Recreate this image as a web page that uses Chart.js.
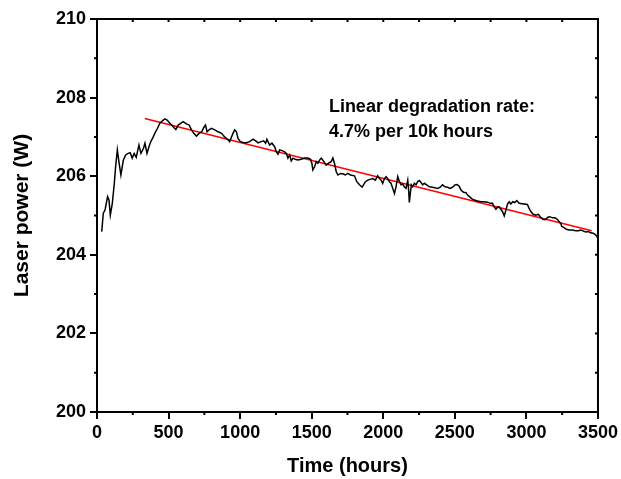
<!DOCTYPE html>
<html><head><meta charset="utf-8">
<script src="https://cdn.jsdelivr.net/npm/chart.js@4.4.1/dist/chart.umd.min.js"></script>
<style>html,body{margin:0;padding:0;background:#fff;overflow:hidden}</style>
</head><body>
<canvas id="c" width="621" height="479"></canvas>
<script>
// ---- data ----
const hours = [
  33,44,56,74,84,93,107,121,130,142,153,167,184,200,218,232,246,260,274,293,307,325,335,349,363,376,393,409,423,439,458,474,490,509,532,551,567,
  602,625,644,660,676,695,713,732,746,758,769,783,800,823,846,870,892,916,927,939,950,962,974,985,1002,1020,1044,1067,1090,1109,1125,1148,1164,1178,1187,
  1206,1222,1241,1253,1264,1276,1292,1311,1323,1334,1346,1357,1369,1385,1403,1427,1450,1473,1492,1501,1508,1520,1532,1543,1555,1567,1585,1601,1618,1636,1648,1659,1671,1683,1701,1717,1734,1752,1771,
  1799,1815,1834,1852,1862,1875,1892,1908,1927,1945,1961,1973,1985,1996,2008,2020,2031,2043,2054,2066,2078,2089,2101,2113,2124,2136,2147,2159,2171,2178,2182,2189,2196,2205,2217,2229,2240,2252,2264,2275,2287,2303,2322,2345,
  2380,2398,2414,2431,2449,2468,2484,2501,2515,2529,2543,2561,2578,2589,2608,2624,2641,2659,2682,2705,2728,2747,2763,2775,2787,2798,2810,2822,2833,2845,2857,2868,2880,2891,2905,2919,2933,
  2949,3007,3019,3031,3047,3066,3084,3100,3117,3135,3147,3163,3182,3200,3217,3229,3240,3247,3263,3279,3298,3321,3344,3363,3379,3395,3414,3433,3449,3466,3479,3491,3498
];
const power = [
  204.59,205.06,205.14,205.48,205.39,205.01,205.31,205.82,206.24,206.67,206.37,206.03,206.41,206.54,206.58,206.60,206.46,206.58,206.48,206.79,206.58,206.71,206.84,206.58,206.75,206.88,207.00,207.13,207.22,207.35,207.41,207.46,207.43,207.35,207.26,207.19,207.30,
  207.39,207.33,207.30,207.18,207.09,207.02,207.09,207.13,207.24,207.30,207.13,207.18,207.22,207.18,207.13,207.09,207.00,206.92,206.88,206.99,207.09,207.18,207.13,206.96,206.88,206.86,206.85,206.88,206.94,206.90,206.85,206.88,206.90,206.84,206.94,
  206.79,206.84,206.75,206.62,206.56,206.67,206.65,206.62,206.58,206.46,206.54,206.39,206.46,206.43,206.41,206.43,206.46,206.46,206.43,206.33,206.16,206.24,206.37,206.33,206.41,206.46,206.37,206.28,206.33,206.37,206.46,206.33,206.12,206.03,206.07,206.06,206.03,206.07,206.03,
  206.01,205.86,205.78,205.72,205.78,205.86,205.90,205.92,205.94,205.90,206.01,205.94,205.90,205.82,205.94,205.99,205.94,205.86,205.82,205.69,205.56,205.73,205.99,205.86,205.78,205.80,205.73,205.69,205.90,205.61,205.33,205.56,205.78,205.73,205.82,205.78,205.86,205.89,205.84,205.78,205.82,205.78,205.73,205.72,
  205.69,205.72,205.78,205.73,205.72,205.69,205.72,205.78,205.79,205.75,205.65,205.59,205.58,205.52,205.46,205.41,205.39,205.37,205.35,205.35,205.34,205.31,205.31,205.22,205.16,205.21,205.22,205.16,205.10,204.99,205.14,205.29,205.35,205.29,205.35,205.33,205.38,
  205.31,205.28,205.18,205.10,205.03,205.01,205.03,204.95,204.90,204.90,204.95,204.97,204.94,204.94,204.90,204.84,204.80,204.72,204.69,204.65,204.63,204.63,204.61,204.61,204.63,204.61,204.58,204.59,204.56,204.55,204.52,204.48,204.42
];
const fitHours = [334, 3456];
const fitPower = [207.47, 204.61];
const xTicks = [0, 500, 1000, 1500, 2000, 2500, 3000, 3500];
const xMinorTicks = [250, 750, 1250, 1750, 2250, 2750, 3250];
const yTicks = [200, 202, 204, 206, 208, 210];
const yMinorTicks = [201, 203, 205, 207, 209];
const annotationLines = ['Linear degradation rate:', '4.7% per 10k hours'];
const annotationAnchor = [1620, 207.76];
const xTitle = 'Time (hours)';
const yTitle = 'Laser power (W)';

const FONT = '"Liberation Sans", Arial, Helvetica, sans-serif';

const framePlugin = {
  id: 'frame',
  afterDatasetsDraw(chart) {
    const {ctx, chartArea: a, scales: {x, y}} = chart;
    ctx.save();
    ctx.strokeStyle = '#000';
    ctx.lineWidth = 2;
    ctx.strokeRect(a.left, a.top, a.right - a.left, a.bottom - a.top);
    ctx.beginPath();
    xMinorTicks.forEach(v => { const px = x.getPixelForValue(v); ctx.moveTo(px, a.bottom); ctx.lineTo(px, a.bottom + 3); });
    yMinorTicks.forEach(v => { const py = y.getPixelForValue(v); ctx.moveTo(a.left, py); ctx.lineTo(a.left - 3, py); });
    xTicks.concat(xMinorTicks).forEach(v => { const px = x.getPixelForValue(v); ctx.moveTo(px, a.top); ctx.lineTo(px, a.top + 3); });
    yTicks.concat(yMinorTicks).forEach(v => { const py = y.getPixelForValue(v); ctx.moveTo(a.right, py); ctx.lineTo(a.right - 3, py); });
    ctx.stroke();
    ctx.fillStyle = '#000';
    ctx.font = 'bold 18px ' + FONT;
    ctx.textBaseline = 'middle';
    ctx.textAlign = 'left';
    const ax = x.getPixelForValue(annotationAnchor[0]);
    const ay = y.getPixelForValue(annotationAnchor[1]);
    annotationLines.forEach((t, i) => ctx.fillText(t, ax, ay + i * 24.5));
    ctx.restore();
  }
};

new Chart(document.getElementById('c'), {
  type: 'line',
  data: {
    datasets: [
      { data: hours.map((h, i) => ({x: h, y: power[i]})), borderColor: '#000', borderWidth: 1.5, pointRadius: 0, tension: 0, fill: false },
      { data: fitHours.map((h, i) => ({x: h, y: fitPower[i]})), borderColor: '#ff0000', borderWidth: 1.5, pointRadius: 0, tension: 0, fill: false }
    ]
  },
  options: {
    responsive: false, animation: false, devicePixelRatio: 1,
    layout: { padding: { top: 19, right: 21.5, left: 0, bottom: 0 } },
    plugins: { legend: { display: false }, tooltip: { enabled: false } },
    scales: {
      x: {
        type: 'linear', min: 0, max: 3500,
        afterBuildTicks: s => { s.ticks = xTicks.map(v => ({value: v})); },
        ticks: { color: '#000', font: { family: FONT, size: 18, weight: 'bold' }, padding: 3, maxRotation: 0, autoSkip: false, callback: v => String(v) },
        grid: { display: true, drawOnChartArea: false, drawTicks: true, tickLength: 7, color: '#000', lineWidth: 2 },
        border: { display: false },
        title: { display: true, text: xTitle, color: '#000', font: { family: FONT, size: 20, weight: 'bold' }, padding: { top: 0, bottom: 1 } },
        afterFit: s => { s.height = 67; }
      },
      y: {
        type: 'linear', min: 200, max: 210,
        afterBuildTicks: s => { s.ticks = yTicks.map(v => ({value: v})); },
        ticks: { color: '#000', font: { family: FONT, size: 18, weight: 'bold' }, padding: 4, autoSkip: false, callback: v => String(v) },
        grid: { display: true, drawOnChartArea: false, drawTicks: true, tickLength: 7, color: '#000', lineWidth: 2 },
        border: { display: false },
        title: { display: true, text: yTitle, color: '#000', font: { family: FONT, size: 21, weight: 'bold' }, padding: { top: 10, bottom: 0 } },
        afterFit: s => { s.width = 97; }
      }
    }
  },
  plugins: [framePlugin]
});
</script>
</body></html>
